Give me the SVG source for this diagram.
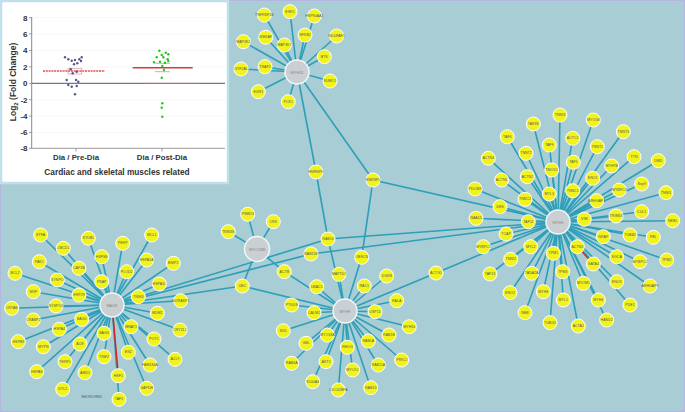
<svg xmlns="http://www.w3.org/2000/svg" width="685" height="412" viewBox="0 0 685 412">
<style>
.e line{stroke:#2e9fb9;stroke-width:1.6}
.n circle{fill:#f3f31c;stroke:#ffffff;stroke-width:1}
.n text,.lbl{font-family:"Liberation Sans",Arial,sans-serif;font-size:3.6px;fill:#555;text-anchor:middle;dominant-baseline:central}
.h circle{fill:#c9cfd2;stroke:#f2f6f6;stroke-width:1.5}
.h text{font-family:"Liberation Sans",Arial,sans-serif;font-size:4px;fill:#888;text-anchor:middle;dominant-baseline:central}
.ax{font-family:"Liberation Sans",Arial,sans-serif;font-weight:bold;fill:#333}
.pp{fill:#55558f}
.gp{fill:#1ec81e}
</style>
<rect x="0" y="0" width="685" height="412" fill="#a8cdd5" stroke="#b4b6e0" stroke-width="2"/>

<g id="connectors" class="e">
<!-- MYH11 hub -->
<line x1="297" y1="72" x2="264.3" y2="15"/><line x1="297" y1="72" x2="290" y2="11.7"/><line x1="297" y1="72" x2="314.3" y2="16"/>
<line x1="297" y1="72" x2="243.3" y2="41.7"/><line x1="297" y1="72" x2="265.7" y2="37.3"/><line x1="297" y1="72" x2="305" y2="35"/>
<line x1="297" y1="72" x2="336.7" y2="36"/><line x1="297" y1="72" x2="284.3" y2="45"/><line x1="297" y1="72" x2="324.3" y2="56.7"/>
<line x1="297" y1="72" x2="241" y2="69"/><line x1="297" y1="72" x2="265" y2="66.7"/><line x1="297" y1="72" x2="330" y2="81"/>
<line x1="297" y1="72" x2="258.3" y2="91.7"/><line x1="297" y1="72" x2="288.3" y2="101.7"/>
<line x1="297" y1="72" x2="316" y2="172"/><line x1="297" y1="72" x2="373" y2="180"/>
<!-- cross links -->
<line x1="316" y1="172" x2="328" y2="239"/><line x1="373" y1="180" x2="361.7" y2="257.3"/>
<line x1="373" y1="180" x2="558" y2="222"/><line x1="328" y1="239" x2="558" y2="222"/>
<line x1="311" y1="254" x2="558" y2="222"/><line x1="112" y1="305" x2="328" y2="239"/>
<line x1="112" y1="305" x2="311" y2="254"/><line x1="112" y1="305" x2="242.3" y2="286"/>
<line x1="328" y1="239" x2="345" y2="311"/><line x1="284.3" y1="271.7" x2="345" y2="311"/>
<line x1="242.3" y1="286" x2="345" y2="311"/><line x1="436" y1="273" x2="558" y2="222"/>
<line x1="436" y1="273" x2="345" y2="311"/>
<!-- MYO18B hub -->
<line x1="257" y1="249" x2="247.7" y2="214.3"/><line x1="257" y1="249" x2="273.3" y2="221.7"/><line x1="257" y1="249" x2="228.3" y2="231.7"/>
<line x1="257" y1="249" x2="284.3" y2="271.7"/><line x1="257" y1="249" x2="242.3" y2="286"/>
<!-- left hub -->
<line x1="112" y1="305" x2="40.7" y2="235"/><line x1="112" y1="305" x2="63.3" y2="248.3"/><line x1="112" y1="305" x2="88.3" y2="238.3"/>
<line x1="112" y1="305" x2="101.7" y2="256.7"/><line x1="112" y1="305" x2="39.3" y2="261.7"/><line x1="112" y1="305" x2="15" y2="273.3"/>
<line x1="112" y1="305" x2="79" y2="268.3"/><line x1="112" y1="305" x2="57.3" y2="280"/><line x1="112" y1="305" x2="33.3" y2="291.7"/>
<line x1="112" y1="305" x2="79" y2="295"/><line x1="112" y1="305" x2="101.7" y2="281.7"/><line x1="112" y1="305" x2="11.7" y2="308.3"/>
<line x1="112" y1="305" x2="56" y2="306"/><line x1="112" y1="305" x2="33.3" y2="320"/><line x1="112" y1="305" x2="81.7" y2="319.3"/>
<line x1="112" y1="305" x2="59.3" y2="329.3"/><line x1="112" y1="305" x2="104" y2="333.3"/><line x1="112" y1="305" x2="18.3" y2="341.7"/>
<line x1="112" y1="305" x2="43.3" y2="346.7"/><line x1="112" y1="305" x2="80" y2="344"/><line x1="112" y1="305" x2="65" y2="361.7"/>
<line x1="112" y1="305" x2="104" y2="356.7"/><line x1="112" y1="305" x2="36.7" y2="371.7"/><line x1="112" y1="305" x2="85" y2="372.7"/>
<line x1="112" y1="305" x2="62.7" y2="389.3"/><line x1="112" y1="305" x2="122.7" y2="243.3"/><line x1="112" y1="305" x2="151.7" y2="235"/>
<line x1="112" y1="305" x2="146.7" y2="260"/><line x1="112" y1="305" x2="173.3" y2="263.3"/><line x1="112" y1="305" x2="126.7" y2="271.7"/>
<line x1="112" y1="305" x2="159.3" y2="284"/><line x1="112" y1="305" x2="138.3" y2="296.7"/><line x1="112" y1="305" x2="180.7" y2="300.7"/>
<line x1="112" y1="305" x2="157.3" y2="313.3"/><line x1="112" y1="305" x2="131" y2="326.7"/><line x1="112" y1="305" x2="180" y2="330"/>
<line x1="112" y1="305" x2="154" y2="339"/><line x1="112" y1="305" x2="128.3" y2="352.3"/><line x1="112" y1="305" x2="150" y2="365"/>
<line x1="112" y1="305" x2="175" y2="359.3"/><line x1="112" y1="305" x2="146.7" y2="388.3"/><line x1="112" y1="305" x2="119" y2="399.3"/>
<line x1="112" y1="305" x2="118.3" y2="375.7" style="stroke:#d02828"/>
<!-- bottom hub -->
<line x1="345" y1="311" x2="361.7" y2="257.3"/><line x1="345" y1="311" x2="339" y2="274.3"/><line x1="345" y1="311" x2="386.7" y2="276"/>
<line x1="345" y1="311" x2="316.7" y2="286.7"/><line x1="345" y1="311" x2="364.3" y2="286"/><line x1="345" y1="311" x2="396.7" y2="300.7"/>
<line x1="345" y1="311" x2="291.7" y2="305"/><line x1="345" y1="311" x2="314" y2="312.7"/><line x1="345" y1="311" x2="375" y2="311.7"/>
<line x1="345" y1="311" x2="283.3" y2="330.7"/><line x1="345" y1="311" x2="327.3" y2="335"/><line x1="345" y1="311" x2="389" y2="335"/>
<line x1="345" y1="311" x2="409.3" y2="326.7"/><line x1="345" y1="311" x2="306" y2="343.3"/><line x1="345" y1="311" x2="347.3" y2="347.3"/>
<line x1="345" y1="311" x2="368.3" y2="341"/><line x1="345" y1="311" x2="291.7" y2="363.3"/><line x1="345" y1="311" x2="326" y2="361.7"/>
<line x1="345" y1="311" x2="378.3" y2="365"/><line x1="345" y1="311" x2="401.7" y2="360"/><line x1="345" y1="311" x2="312.7" y2="381.7"/>
<line x1="345" y1="311" x2="352.7" y2="370"/><line x1="345" y1="311" x2="338.3" y2="390"/><line x1="345" y1="311" x2="370.7" y2="387.7"/>
<!-- right hub -->
<line x1="558" y1="222" x2="560" y2="115"/><line x1="558" y1="222" x2="533.3" y2="124"/><line x1="558" y1="222" x2="507.3" y2="136.7"/>
<line x1="558" y1="222" x2="549.3" y2="145"/><line x1="558" y1="222" x2="488.3" y2="158.3"/><line x1="558" y1="222" x2="526" y2="153.3"/>
<line x1="558" y1="222" x2="551.7" y2="170"/><line x1="558" y1="222" x2="501.7" y2="180"/><line x1="558" y1="222" x2="527.3" y2="176.7"/>
<line x1="558" y1="222" x2="475" y2="189"/><line x1="558" y1="222" x2="549.3" y2="194"/><line x1="558" y1="222" x2="525" y2="199.3"/>
<line x1="558" y1="222" x2="500" y2="206.7"/><line x1="558" y1="222" x2="476" y2="218.3"/><line x1="558" y1="222" x2="528.3" y2="221.7"/>
<line x1="558" y1="222" x2="593.3" y2="120"/><line x1="558" y1="222" x2="623.3" y2="131.7"/><line x1="558" y1="222" x2="572.7" y2="138.3"/>
<line x1="558" y1="222" x2="597.3" y2="146.7"/><line x1="558" y1="222" x2="573.3" y2="162.3"/><line x1="558" y1="222" x2="611.7" y2="166"/>
<line x1="558" y1="222" x2="634" y2="156.7"/><line x1="558" y1="222" x2="658.3" y2="160.7"/><line x1="558" y1="222" x2="592.7" y2="178.3"/>
<line x1="558" y1="222" x2="572.7" y2="190.7"/><line x1="558" y1="222" x2="619.3" y2="190"/><line x1="558" y1="222" x2="641.7" y2="184"/>
<line x1="558" y1="222" x2="666" y2="192.7"/><line x1="558" y1="222" x2="596.7" y2="200.7"/><line x1="558" y1="222" x2="616" y2="216"/>
<line x1="558" y1="222" x2="641.7" y2="211.7"/><line x1="558" y1="222" x2="584.3" y2="219.3"/><line x1="558" y1="222" x2="672.7" y2="220.7"/>
<line x1="558" y1="222" x2="506" y2="234"/><line x1="558" y1="222" x2="483.3" y2="246.7"/><line x1="558" y1="222" x2="530.7" y2="246.7"/>
<line x1="558" y1="222" x2="553.3" y2="253.3"/><line x1="558" y1="222" x2="510.7" y2="259.3"/><line x1="558" y1="222" x2="490" y2="274"/>
<line x1="558" y1="222" x2="531.7" y2="273.3"/><line x1="558" y1="222" x2="562.7" y2="271.7"/><line x1="558" y1="222" x2="510" y2="292.7"/>
<line x1="558" y1="222" x2="543.3" y2="291.7"/><line x1="558" y1="222" x2="563.3" y2="300"/><line x1="558" y1="222" x2="525" y2="312.7"/>
<line x1="558" y1="222" x2="550" y2="322.7"/><line x1="558" y1="222" x2="603.3" y2="236.7"/><line x1="558" y1="222" x2="630" y2="235"/>
<line x1="558" y1="222" x2="653.3" y2="237.3"/><line x1="558" y1="222" x2="577.3" y2="246.7"/><line x1="558" y1="222" x2="616.7" y2="256.7"/>
<line x1="558" y1="222" x2="640" y2="261.7"/><line x1="558" y1="222" x2="666.7" y2="260"/><line x1="558" y1="222" x2="593.3" y2="264"/>
<line x1="558" y1="222" x2="616.7" y2="281.7"/><line x1="558" y1="222" x2="650" y2="286"/><line x1="558" y1="222" x2="583.3" y2="283.3"/>
<line x1="558" y1="222" x2="598.3" y2="300"/><line x1="558" y1="222" x2="630" y2="305"/><line x1="558" y1="222" x2="578.3" y2="326"/>
<line x1="558" y1="222" x2="606.7" y2="320"/>
<line x1="577.3" y1="246.7" x2="593.3" y2="264" style="stroke:#d02828;stroke-width:1.2"/>
</g>

<!-- hubs -->
<g id="hub-MYH11" class="h"><circle cx="297" cy="72" r="12"/><text x="297" y="72">MYH11</text></g>
<g id="hub-BAG" class="h"><circle cx="112" cy="305" r="12"/><text x="112" y="305">BAG3</text></g>
<g id="hub-MYO18B" class="h"><circle cx="257" cy="249" r="12.5"/><text x="257" y="249">MYO18B</text></g>
<g id="hub-MYH9" class="h"><circle cx="345" cy="311" r="12"/><text x="345" y="311">MYH9</text></g>
<g id="hub-MYH6" class="h"><circle cx="558" cy="222" r="12"/><text x="558" y="222">MYH6</text></g>

<!-- top cluster -->
<g id="n-TNFRSF1B" class="n"><circle cx="264.3" cy="15" r="7"/><text x="264.3" y="15">TNFRSF1B</text></g>
<g id="n-ESR1" class="n"><circle cx="290" cy="11.7" r="7"/><text x="290" y="11.7">ESR1</text></g>
<g id="n-HSP90AA1" class="n"><circle cx="314.3" cy="16" r="7"/><text x="314.3" y="16">HSP90AA1</text></g>
<g id="n-MAP3K1" class="n"><circle cx="243.3" cy="41.7" r="7"/><text x="243.3" y="41.7">MAP3K1</text></g>
<g id="n-IKBKAP" class="n"><circle cx="265.7" cy="37.3" r="7"/><text x="265.7" y="37.3">IKBKAP</text></g>
<g id="n-NFKB2" class="n"><circle cx="305" cy="35" r="7"/><text x="305" y="35">NFKB2</text></g>
<g id="n-NDUFAF1" class="n"><circle cx="336.7" cy="36" r="7"/><text x="336.7" y="36">NDUFAF1</text></g>
<g id="n-MAP3K7" class="n"><circle cx="284.3" cy="45" r="7"/><text x="284.3" y="45">MAP3K7</text></g>
<g id="n-BTK" class="n"><circle cx="324.3" cy="56.7" r="7"/><text x="324.3" y="56.7">BTK</text></g>
<g id="n-GTF2A1" class="n"><circle cx="241" cy="69" r="7"/><text x="241" y="69">GTF2A1</text></g>
<g id="n-TRAF2" class="n"><circle cx="265" cy="66.7" r="7"/><text x="265" y="66.7">TRAF2</text></g>
<g id="n-SUMO1" class="n"><circle cx="330" cy="81" r="7"/><text x="330" y="81">SUMO1</text></g>
<g id="n-EGR1" class="n"><circle cx="258.3" cy="91.7" r="7"/><text x="258.3" y="91.7">EGR1</text></g>
<g id="n-PCK1" class="n"><circle cx="288.3" cy="101.7" r="7"/><text x="288.3" y="101.7">PCK1</text></g>
<g id="n-HNRNPD" class="n"><circle cx="316" cy="172" r="7"/><text x="316" y="172">HNRNPD</text></g>
<g id="n-HNRNPL" class="n"><circle cx="373" cy="180" r="7"/><text x="373" y="180">HNRNPL</text></g>
<g id="n-RAB10" class="n"><circle cx="328" cy="239" r="7"/><text x="328" y="239">RAB10</text></g>
<g id="n-RAB11B" class="n"><circle cx="311" cy="254" r="7"/><text x="311" y="254">RAB11B</text></g>
<g id="n-ACTG1" class="n"><circle cx="436" cy="273" r="7"/><text x="436" y="273">ACTG1</text></g>

<!-- middle cluster -->
<g id="n-PSMD3" class="n"><circle cx="247.7" cy="214.3" r="7"/><text x="247.7" y="214.3">PSMD3</text></g>
<g id="n-CRK" class="n"><circle cx="273.3" cy="221.7" r="7"/><text x="273.3" y="221.7">CRK</text></g>
<g id="n-TNNI3K" class="n"><circle cx="228.3" cy="231.7" r="7"/><text x="228.3" y="231.7">TNNI3K</text></g>
<g id="n-ACTB" class="n"><circle cx="284.3" cy="271.7" r="7"/><text x="284.3" y="271.7">ACTB</text></g>
<g id="n-UBC" class="n"><circle cx="242.3" cy="286" r="7"/><text x="242.3" y="286">UBC</text></g>

<!-- left cluster -->
<g id="n-ETFA" class="n"><circle cx="40.7" cy="235" r="7"/><text x="40.7" y="235">ETFA</text></g>
<g id="n-LMCD1" class="n"><circle cx="63.3" cy="248.3" r="7"/><text x="63.3" y="248.3">LMCD1</text></g>
<g id="n-STUB1" class="n"><circle cx="88.3" cy="238.3" r="7"/><text x="88.3" y="238.3">STUB1</text></g>
<g id="n-HSPB6" class="n"><circle cx="101.7" cy="256.7" r="7"/><text x="101.7" y="256.7">HSPB6</text></g>
<g id="n-PAK1" class="n"><circle cx="39.3" cy="261.7" r="7"/><text x="39.3" y="261.7">PAK1</text></g>
<g id="n-BCL2" class="n"><circle cx="15" cy="273.3" r="7"/><text x="15" y="273.3">BCL2</text></g>
<g id="n-CAPZB" class="n"><circle cx="79" cy="268.3" r="7"/><text x="79" y="268.3">CAPZB</text></g>
<g id="n-SYNPO" class="n"><circle cx="57.3" cy="280" r="7"/><text x="57.3" y="280">SYNPO</text></g>
<g id="n-MVP" class="n"><circle cx="33.3" cy="291.7" r="7"/><text x="33.3" y="291.7">MVP</text></g>
<g id="n-ERP29" class="n"><circle cx="79" cy="295" r="7"/><text x="79" y="295">ERP29</text></g>
<g id="n-PSAP" class="n"><circle cx="101.7" cy="281.7" r="7"/><text x="101.7" y="281.7">PSAP</text></g>
<g id="n-CRYAB" class="n"><circle cx="11.7" cy="308.3" r="7"/><text x="11.7" y="308.3">CRYAB</text></g>
<g id="n-SYNPO2" class="n"><circle cx="56" cy="306" r="7"/><text x="56" y="306">SYNPO2</text></g>
<g id="n-CRABP2" class="n"><circle cx="33.3" cy="320" r="7"/><text x="33.3" y="320">CRABP2</text></g>
<g id="n-BAG4" class="n"><circle cx="81.7" cy="319.3" r="7"/><text x="81.7" y="319.3">BAG4</text></g>
<g id="n-HSPA4" class="n"><circle cx="59.3" cy="329.3" r="7"/><text x="59.3" y="329.3">HSPA4</text></g>
<g id="n-BAG3" class="n"><circle cx="104" cy="333.3" r="7"/><text x="104" y="333.3">BAG3</text></g>
<g id="n-HSPB8" class="n"><circle cx="18.3" cy="341.7" r="7"/><text x="18.3" y="341.7">HSPB8</text></g>
<g id="n-MYPN" class="n"><circle cx="43.3" cy="346.7" r="7"/><text x="43.3" y="346.7">MYPN</text></g>
<g id="n-ACE" class="n"><circle cx="80" cy="344" r="7"/><text x="80" y="344">ACE</text></g>
<g id="n-TERF1" class="n"><circle cx="65" cy="361.7" r="7"/><text x="65" y="361.7">TERF1</text></g>
<g id="n-TINF2" class="n"><circle cx="104" cy="356.7" r="7"/><text x="104" y="356.7">TINF2</text></g>
<g id="n-HSPA8" class="n"><circle cx="36.7" cy="371.7" r="7"/><text x="36.7" y="371.7">HSPA8</text></g>
<g id="n-AMD1" class="n"><circle cx="85" cy="372.7" r="7"/><text x="85" y="372.7">AMD1</text></g>
<g id="n-DYL2" class="n"><circle cx="62.7" cy="389.3" r="7"/><text x="62.7" y="389.3">DYL2</text></g>
<g id="n-SHOROHND"><text class="lbl" x="91.7" y="396.7">SHOROHND</text></g>
<g id="n-PERP" class="n"><circle cx="122.7" cy="243.3" r="7"/><text x="122.7" y="243.3">PERP</text></g>
<g id="n-MCL1" class="n"><circle cx="151.7" cy="235" r="7"/><text x="151.7" y="235">MCL1</text></g>
<g id="n-HSPA1A" class="n"><circle cx="146.7" cy="260" r="7"/><text x="146.7" y="260">HSPA1A</text></g>
<g id="n-BNIP2" class="n"><circle cx="173.3" cy="263.3" r="7"/><text x="173.3" y="263.3">BNIP2</text></g>
<g id="n-PLOD2" class="n"><circle cx="126.7" cy="271.7" r="7"/><text x="126.7" y="271.7">PLOD2</text></g>
<g id="n-HSPA1L" class="n"><circle cx="159.3" cy="284" r="7"/><text x="159.3" y="284">HSPA1L</text></g>
<g id="n-TNNI3" class="n"><circle cx="138.3" cy="296.7" r="7"/><text x="138.3" y="296.7">TNNI3</text></g>
<g id="n-GORASP2" class="n"><circle cx="180.7" cy="300.7" r="7"/><text x="180.7" y="300.7">GORASP2</text></g>
<g id="n-MDM2" class="n"><circle cx="157.3" cy="313.3" r="7"/><text x="157.3" y="313.3">MDM2</text></g>
<g id="n-MNAT1" class="n"><circle cx="131" cy="326.7" r="7"/><text x="131" y="326.7">MNAT1</text></g>
<g id="n-CRYZL1" class="n"><circle cx="180" cy="330" r="7"/><text x="180" y="330">CRYZL1</text></g>
<g id="n-POT1" class="n"><circle cx="154" cy="339" r="7"/><text x="154" y="339">POT1</text></g>
<g id="n-EN2" class="n"><circle cx="128.3" cy="352.3" r="7"/><text x="128.3" y="352.3">EN2</text></g>
<g id="n-FAM184A" class="n"><circle cx="150" cy="365" r="7"/><text x="150" y="365">FAM184A</text></g>
<g id="n-ACLY" class="n"><circle cx="175" cy="359.3" r="7"/><text x="175" y="359.3">ACLY</text></g>
<g id="n-HSF1" class="n"><circle cx="118.3" cy="375.7" r="7"/><text x="118.3" y="375.7">HSF1</text></g>
<g id="n-GAPDH" class="n"><circle cx="146.7" cy="388.3" r="7"/><text x="146.7" y="388.3">GAPDH</text></g>
<g id="n-TAF1" class="n"><circle cx="119" cy="399.3" r="7"/><text x="119" y="399.3">TAF1</text></g>

<!-- bottom cluster -->
<g id="n-OBSCN" class="n"><circle cx="361.7" cy="257.3" r="7"/><text x="361.7" y="257.3">OBSCN</text></g>
<g id="n-MAP7D1" class="n"><circle cx="339" cy="274.3" r="7"/><text x="339" y="274.3">MAP7D1</text></g>
<g id="n-DGKB" class="n"><circle cx="386.7" cy="276" r="7"/><text x="386.7" y="276">DGKB</text></g>
<g id="n-UBAC1" class="n"><circle cx="316.7" cy="286.7" r="7"/><text x="316.7" y="286.7">UBAC1</text></g>
<g id="n-RAC1" class="n"><circle cx="364.3" cy="286" r="7"/><text x="364.3" y="286">RAC1</text></g>
<g id="n-RALA" class="n"><circle cx="396.7" cy="300.7" r="7"/><text x="396.7" y="300.7">RALA</text></g>
<g id="n-PTGDS" class="n"><circle cx="291.7" cy="305" r="7"/><text x="291.7" y="305">PTGDS</text></g>
<g id="n-CALM1" class="n"><circle cx="314" cy="312.7" r="7"/><text x="314" y="312.7">CALM1</text></g>
<g id="n-USP15" class="n"><circle cx="375" cy="311.7" r="7"/><text x="375" y="311.7">USP15</text></g>
<g id="n-SVIL" class="n"><circle cx="283.3" cy="330.7" r="7"/><text x="283.3" y="330.7">SVIL</text></g>
<g id="n-MYO18A" class="n"><circle cx="327.3" cy="335" r="7"/><text x="327.3" y="335">MYO18A</text></g>
<g id="n-RAB1B" class="n"><circle cx="389" cy="335" r="7"/><text x="389" y="335">RAB1B</text></g>
<g id="n-MYH10" class="n"><circle cx="409.3" cy="326.7" r="7"/><text x="409.3" y="326.7">MYH10</text></g>
<g id="n-GBL" class="n"><circle cx="306" cy="343.3" r="7"/><text x="306" y="343.3">GBL</text></g>
<g id="n-RHOG" class="n"><circle cx="347.3" cy="347.3" r="7"/><text x="347.3" y="347.3">RHOG</text></g>
<g id="n-RAB1A" class="n"><circle cx="368.3" cy="341" r="7"/><text x="368.3" y="341">RAB1A</text></g>
<g id="n-RAB6A" class="n"><circle cx="291.7" cy="363.3" r="7"/><text x="291.7" y="363.3">RAB6A</text></g>
<g id="n-AKT2" class="n"><circle cx="326" cy="361.7" r="7"/><text x="326" y="361.7">AKT2</text></g>
<g id="n-RAB11A" class="n"><circle cx="378.3" cy="365" r="7"/><text x="378.3" y="365">RAB11A</text></g>
<g id="n-PRKCI" class="n"><circle cx="401.7" cy="360" r="7"/><text x="401.7" y="360">PRKCI</text></g>
<g id="n-S100A4" class="n"><circle cx="312.7" cy="381.7" r="7"/><text x="312.7" y="381.7">S100A4</text></g>
<g id="n-MYO1C" class="n"><circle cx="352.7" cy="370" r="7"/><text x="352.7" y="370">MYO1C</text></g>
<g id="n-CDC42BPA" class="n"><circle cx="338.3" cy="390" r="7"/><text x="338.3" y="390">CDC42BPA</text></g>
<g id="n-RAB13" class="n"><circle cx="370.7" cy="387.7" r="7"/><text x="370.7" y="387.7">RAB13</text></g>

<!-- right cluster -->
<g id="n-TNNI3b" class="n"><circle cx="560" cy="115" r="7"/><text x="560" y="115">TNNI3</text></g>
<g id="n-TAF1B" class="n"><circle cx="533.3" cy="124" r="7"/><text x="533.3" y="124">TAF1B</text></g>
<g id="n-TAF6" class="n"><circle cx="507.3" cy="136.7" r="7"/><text x="507.3" y="136.7">TAF6</text></g>
<g id="n-TAF9" class="n"><circle cx="549.3" cy="145" r="7"/><text x="549.3" y="145">TAF9</text></g>
<g id="n-ACTN4" class="n"><circle cx="488.3" cy="158.3" r="7"/><text x="488.3" y="158.3">ACTN4</text></g>
<g id="n-TNNT2" class="n"><circle cx="526" cy="153.3" r="7"/><text x="526" y="153.3">TNNT2</text></g>
<g id="n-TMOD1" class="n"><circle cx="551.7" cy="170" r="7"/><text x="551.7" y="170">TMOD1</text></g>
<g id="n-ACTN1" class="n"><circle cx="501.7" cy="180" r="7"/><text x="501.7" y="180">ACTN1</text></g>
<g id="n-ACTN2" class="n"><circle cx="527.3" cy="176.7" r="7"/><text x="527.3" y="176.7">ACTN2</text></g>
<g id="n-PDLIM3" class="n"><circle cx="475" cy="189" r="7"/><text x="475" y="189">PDLIM3</text></g>
<g id="n-MYL3" class="n"><circle cx="549.3" cy="194" r="7"/><text x="549.3" y="194">MYL3</text></g>
<g id="n-TNNC2" class="n"><circle cx="525" cy="199.3" r="7"/><text x="525" y="199.3">TNNC2</text></g>
<g id="n-DES" class="n"><circle cx="500" cy="206.7" r="7"/><text x="500" y="206.7">DES</text></g>
<g id="n-NAA15" class="n"><circle cx="476" cy="218.3" r="7"/><text x="476" y="218.3">NAA15</text></g>
<g id="n-TAF11" class="n"><circle cx="528.3" cy="221.7" r="7"/><text x="528.3" y="221.7">TAF11</text></g>
<g id="n-MYO5B" class="n"><circle cx="593.3" cy="120" r="7"/><text x="593.3" y="120">MYO5B</text></g>
<g id="n-TNNT3" class="n"><circle cx="623.3" cy="131.7" r="7"/><text x="623.3" y="131.7">TNNT3</text></g>
<g id="n-ACTC1" class="n"><circle cx="572.7" cy="138.3" r="7"/><text x="572.7" y="138.3">ACTC1</text></g>
<g id="n-TNNT1" class="n"><circle cx="597.3" cy="146.7" r="7"/><text x="597.3" y="146.7">TNNT1</text></g>
<g id="n-TAF5" class="n"><circle cx="573.3" cy="162.3" r="7"/><text x="573.3" y="162.3">TAF5</text></g>
<g id="n-MYH7B" class="n"><circle cx="611.7" cy="166" r="7"/><text x="611.7" y="166">MYH7B</text></g>
<g id="n-TTN" class="n"><circle cx="634" cy="156.7" r="7"/><text x="634" y="156.7">TTN</text></g>
<g id="n-DMD" class="n"><circle cx="658.3" cy="160.7" r="7"/><text x="658.3" y="160.7">DMD</text></g>
<g id="n-ENO1" class="n"><circle cx="592.7" cy="178.3" r="7"/><text x="592.7" y="178.3">ENO1</text></g>
<g id="n-TNNC1" class="n"><circle cx="572.7" cy="190.7" r="7"/><text x="572.7" y="190.7">TNNC1</text></g>
<g id="n-MYBPC3" class="n"><circle cx="619.3" cy="190" r="7"/><text x="619.3" y="190">MYBPC3</text></g>
<g id="n-SEPT9" class="n"><circle cx="641.7" cy="184" r="7"/><text x="641.7" y="184">Sep9</text></g>
<g id="n-TNNI1" class="n"><circle cx="666" cy="192.7" r="7"/><text x="666" y="192.7">TNNI1</text></g>
<g id="n-ARHGAP1" class="n"><circle cx="596.7" cy="200.7" r="7"/><text x="596.7" y="200.7">ARHGAP1</text></g>
<g id="n-TRIM63" class="n"><circle cx="616" cy="216" r="7"/><text x="616" y="216">TRIM63</text></g>
<g id="n-CUL1" class="n"><circle cx="641.7" cy="211.7" r="7"/><text x="641.7" y="211.7">CUL1</text></g>
<g id="n-VIM" class="n"><circle cx="584.3" cy="219.3" r="7"/><text x="584.3" y="219.3">VIM</text></g>
<g id="n-NEBL" class="n"><circle cx="672.7" cy="220.7" r="7"/><text x="672.7" y="220.7">NEBL</text></g>
<g id="n-TCAP" class="n"><circle cx="506" cy="234" r="7"/><text x="506" y="234">TCAP</text></g>
<g id="n-MYBPC1" class="n"><circle cx="483.3" cy="246.7" r="7"/><text x="483.3" y="246.7">MYBPC1</text></g>
<g id="n-MYL2" class="n"><circle cx="530.7" cy="246.7" r="7"/><text x="530.7" y="246.7">MYL2</text></g>
<g id="n-TPM1" class="n"><circle cx="553.3" cy="253.3" r="7"/><text x="553.3" y="253.3">TPM1</text></g>
<g id="n-TNNI2" class="n"><circle cx="510.7" cy="259.3" r="7"/><text x="510.7" y="259.3">TNNI2</text></g>
<g id="n-TAF13" class="n"><circle cx="490" cy="274" r="7"/><text x="490" y="274">TAF13</text></g>
<g id="n-TADA2A" class="n"><circle cx="531.7" cy="273.3" r="7"/><text x="531.7" y="273.3">TADA2A</text></g>
<g id="n-TPM3" class="n"><circle cx="562.7" cy="271.7" r="7"/><text x="562.7" y="271.7">TPM3</text></g>
<g id="n-ENO2" class="n"><circle cx="510" cy="292.7" r="7"/><text x="510" y="292.7">ENO2</text></g>
<g id="n-MYH8" class="n"><circle cx="543.3" cy="291.7" r="7"/><text x="543.3" y="291.7">MYH8</text></g>
<g id="n-MYL1" class="n"><circle cx="563.3" cy="300" r="7"/><text x="563.3" y="300">MYL1</text></g>
<g id="n-NEB" class="n"><circle cx="525" cy="312.7" r="7"/><text x="525" y="312.7">NEB</text></g>
<g id="n-TUBG1" class="n"><circle cx="550" cy="322.7" r="7"/><text x="550" y="322.7">TUBG1</text></g>
<g id="n-NRAP" class="n"><circle cx="603.3" cy="236.7" r="7"/><text x="603.3" y="236.7">NRAP</text></g>
<g id="n-TUBB2" class="n"><circle cx="630" cy="235" r="7"/><text x="630" y="235">TUBB2</text></g>
<g id="n-FBL" class="n"><circle cx="653.3" cy="237.3" r="7"/><text x="653.3" y="237.3">FBL</text></g>
<g id="n-ACTN3" class="n"><circle cx="577.3" cy="246.7" r="7"/><text x="577.3" y="246.7">ACTN3</text></g>
<g id="n-SGCA" class="n"><circle cx="616.7" cy="256.7" r="7"/><text x="616.7" y="256.7">SGCA</text></g>
<g id="n-MYBPC2" class="n"><circle cx="640" cy="261.7" r="7"/><text x="640" y="261.7">MYBPC2</text></g>
<g id="n-TPM2" class="n"><circle cx="666.7" cy="260" r="7"/><text x="666.7" y="260">TPM2</text></g>
<g id="n-GATA4" class="n"><circle cx="593.3" cy="264" r="7"/><text x="593.3" y="264">GATA4</text></g>
<g id="n-ENO3" class="n"><circle cx="616.7" cy="281.7" r="7"/><text x="616.7" y="281.7">ENO3</text></g>
<g id="n-ARHGAP9" class="n"><circle cx="650" cy="286" r="7"/><text x="650" y="286">ARHGAP9</text></g>
<g id="n-MYOM1" class="n"><circle cx="583.3" cy="283.3" r="7"/><text x="583.3" y="283.3">MYOM1</text></g>
<g id="n-MYH4" class="n"><circle cx="598.3" cy="300" r="7"/><text x="598.3" y="300">MYH4</text></g>
<g id="n-PDE1" class="n"><circle cx="630" cy="305" r="7"/><text x="630" y="305">PDE1</text></g>
<g id="n-ACTA1" class="n"><circle cx="578.3" cy="326" r="7"/><text x="578.3" y="326">ACTA1</text></g>
<g id="n-HAND2" class="n"><circle cx="606.7" cy="320" r="7"/><text x="606.7" y="320">HAND2</text></g>

<!-- inset chart -->
<g id="inset">
<rect x="1" y="1" width="227" height="182" fill="#ffffff" stroke="#bfe0ea" stroke-width="2.5"/>
<g stroke="#e4e4e4" stroke-width="0.6" stroke-dasharray="1,1">
<line x1="32" y1="17.7" x2="225" y2="17.7"/><line x1="32" y1="33.9" x2="225" y2="33.9"/><line x1="32" y1="50.5" x2="225" y2="50.5"/><line x1="32" y1="66.9" x2="225" y2="66.9"/>
<line x1="32" y1="99.7" x2="225" y2="99.7"/><line x1="32" y1="116.1" x2="225" y2="116.1"/><line x1="32" y1="132.5" x2="225" y2="132.5"/>
</g>
<line x1="31.7" y1="17" x2="31.7" y2="148.5" stroke="#888" stroke-width="1"/>
<line x1="31.7" y1="148.3" x2="225" y2="148.3" stroke="#999" stroke-width="1"/>
<line x1="76" y1="148.3" x2="76" y2="151.5" stroke="#999"/><line x1="162" y1="148.3" x2="162" y2="151.5" stroke="#999"/>
<g stroke="#888" stroke-width="0.8">
<line x1="29" y1="17.7" x2="31.7" y2="17.7"/><line x1="29" y1="33.9" x2="31.7" y2="33.9"/><line x1="29" y1="50.5" x2="31.7" y2="50.5"/><line x1="29" y1="66.9" x2="31.7" y2="66.9"/>
<line x1="29" y1="83.3" x2="31.7" y2="83.3"/><line x1="29" y1="99.7" x2="31.7" y2="99.7"/><line x1="29" y1="116.1" x2="31.7" y2="116.1"/><line x1="29" y1="132.5" x2="31.7" y2="132.5"/><line x1="29" y1="148.3" x2="31.7" y2="148.3"/>
</g>
<g class="ax" font-size="8" text-anchor="end">
<text x="27.5" y="20.5">8</text><text x="27.5" y="36.7">6</text><text x="27.5" y="53.3">4</text><text x="27.5" y="69.7">2</text>
<text x="27.5" y="86.1">0</text><text x="27.5" y="102.5">-2</text><text x="27.5" y="118.9">-4</text><text x="27.5" y="135.3">-6</text><text x="27.5" y="151.1">-8</text>
</g>
<line x1="32" y1="83.3" x2="225" y2="83.3" stroke="#555" stroke-width="1"/>
<line x1="146" y1="83.3" x2="200" y2="83.3" stroke="#e08080" stroke-width="0.8" stroke-dasharray="1,1"/>
<!-- pre-dia -->
<rect x="68" y="68.3" width="13.7" height="5.7" fill="none" stroke="#e9a0a0" stroke-width="0.8"/>
<line x1="43" y1="71" x2="105" y2="71" stroke="#e05050" stroke-width="1.4" stroke-dasharray="2,0.8"/>
<g class="pp">
<circle cx="65" cy="57.3" r="1.2"/><circle cx="68.3" cy="59.3" r="1.2"/><circle cx="71.7" cy="60.7" r="1.2"/><circle cx="75" cy="60" r="1.2"/>
<circle cx="79.3" cy="59.3" r="1.2"/><circle cx="81.7" cy="57.3" r="1.2"/><circle cx="81" cy="61" r="1.2"/><circle cx="77.3" cy="63.3" r="1.2"/>
<circle cx="74" cy="64.3" r="1.2"/><circle cx="70.7" cy="69.3" r="1.2"/><circle cx="76.7" cy="71.7" r="1.2"/><circle cx="72.7" cy="73.3" r="1.2"/>
<circle cx="66.7" cy="80" r="1.2"/><circle cx="76" cy="80" r="1.2"/><circle cx="78.3" cy="81.7" r="1.2"/><circle cx="68.3" cy="85" r="1.2"/>
<circle cx="71.7" cy="86.7" r="1.2"/><circle cx="76.7" cy="86" r="1.2"/><circle cx="75" cy="94.3" r="1.2"/>
</g>
<!-- post-dia -->
<line x1="155" y1="63.3" x2="170" y2="63.3" stroke="#e9a0a0" stroke-width="1"/>
<line x1="155" y1="71.7" x2="170" y2="71.7" stroke="#e9a0a0" stroke-width="1"/>
<line x1="132.7" y1="67.7" x2="192.7" y2="67.7" stroke="#d83a3a" stroke-width="1.5"/>
<g class="gp">
<circle cx="159.3" cy="50.7" r="1.2"/><circle cx="165.7" cy="52.7" r="1.2"/><circle cx="161.7" cy="55" r="1.2"/><circle cx="168.3" cy="54.3" r="1.2"/>
<circle cx="156.7" cy="57.3" r="1.2"/><circle cx="163.3" cy="57.3" r="1.2"/><circle cx="167.7" cy="59.3" r="1.2"/><circle cx="160" cy="61.7" r="1.2"/>
<circle cx="154" cy="62.3" r="1.2"/><circle cx="165" cy="62.7" r="1.2"/><circle cx="168.3" cy="61" r="1.2"/><circle cx="162.3" cy="66" r="1.2"/>
<circle cx="164" cy="70" r="1.2"/><circle cx="161.7" cy="77.7" r="1.2"/><circle cx="162.3" cy="103.3" r="1.2"/><circle cx="161.7" cy="107.7" r="1.2"/>
<circle cx="162.3" cy="116.7" r="1.2"/>
</g>
<text class="ax" font-size="8.5" transform="translate(15.5,82) rotate(-90)" text-anchor="middle">Log<tspan font-size="6" dy="2">2</tspan><tspan dy="-2"> (Fold Change)</tspan></text>
<text class="ax" font-size="7.8" x="76" y="160" text-anchor="middle">Dia / Pre-Dia</text>
<text class="ax" font-size="7.8" x="162" y="160" text-anchor="middle">Dia / Post-Dia</text>
<text class="ax" font-size="8.3" x="117" y="175" text-anchor="middle">Cardiac and skeletal muscles related</text>
</g>
</svg>
